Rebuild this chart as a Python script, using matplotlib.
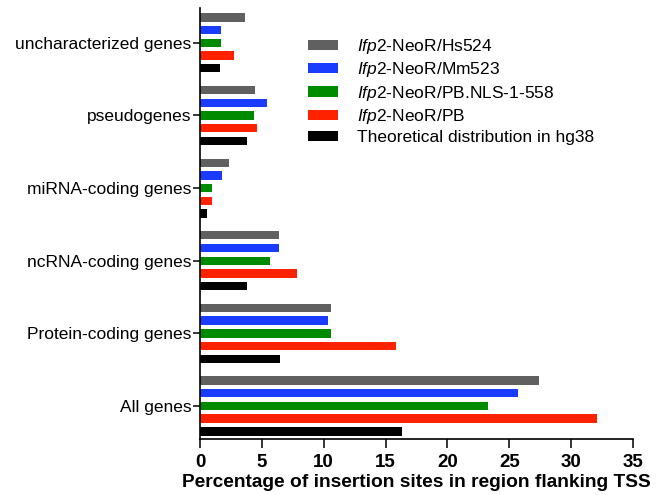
import numpy as np
import matplotlib
matplotlib.use('Agg')
import matplotlib.pyplot as plt

plt.rcParams['font.family'] = ['Liberation Sans', 'DejaVu Sans']
plt.rcParams['mathtext.fontset'] = 'custom'
plt.rcParams['mathtext.it'] = 'Liberation Sans:italic'
plt.rcParams['mathtext.rm'] = 'Liberation Sans'

# categories, bottom to top
categories = ['All genes', 'Protein-coding genes', 'ncRNA-coding genes',
              'miRNA-coding genes', 'pseudogenes', 'uncharacterized genes']

series_labels = [r'$\it{Ifp2}$-NeoR/Hs524',
                 r'$\it{Ifp2}$-NeoR/Mm523',
                 r'$\it{Ifp2}$-NeoR/PB.NLS-1-558',
                 r'$\it{Ifp2}$-NeoR/PB',
                 'Theoretical distribution in hg38']

hs524 = [27.4, 10.55, 6.35, 2.37, 4.45, 3.6]
mm523 = [25.7, 10.35, 6.42, 1.8, 5.4, 1.67]
pb_nls = [23.25, 10.55, 5.63, 0.95, 4.35, 1.73]
pb = [32.1, 15.85, 7.82, 1.0, 4.6, 2.75]
hg38 = [16.35, 6.47, 3.8, 0.6, 3.83, 1.64]

series = [hs524, mm523, pb_nls, pb, hg38]
colors = ['#606060', '#1a3cff', '#008a00', '#ff2200', '#000000']

fig = plt.figure(figsize=(6.57, 4.95), dpi=100)
ax = fig.add_axes([200/657, 1-439/495, 433/657, 431/495])

y = np.arange(len(categories))
d = 0.175
h = 0.115
for i, (vals, c, lab) in enumerate(zip(series, colors, series_labels)):
    ax.barh(y + (2 - i) * d, vals, height=h, color=c, label=lab)

ax.set_ylim(-0.455, 5.48)
ax.set_xlim(0, 35)
ax.set_xticks(np.arange(0, 36, 5))
ax.set_yticks(y)
ax.set_yticklabels(categories, fontsize=12.5)
ax.spines['top'].set_visible(False)
ax.spines['right'].set_visible(False)
ax.spines['left'].set_linewidth(1.2)
ax.spines['bottom'].set_linewidth(1.2)
ax.tick_params(axis='y', length=5, width=1.1, pad=1)
ax.tick_params(axis='x', length=6.5, width=1.1, pad=4.5, labelsize=13.5)
for t in ax.get_xticklabels():
    t.set_fontweight('bold')
ax.set_xlabel('Percentage of insertion sites in region flanking TSS',
              fontsize=13.8, fontweight='bold', labelpad=2)

ax.legend(loc='upper left', bbox_to_anchor=(308/657, 1-37/495),
          bbox_transform=fig.transFigure, frameon=False, fontsize=12.5,
          handlelength=1.75, handleheight=0.55, handletextpad=1.1,
          labelspacing=0.25, borderpad=0, borderaxespad=0)

fig.savefig('out.png', dpi=100)
